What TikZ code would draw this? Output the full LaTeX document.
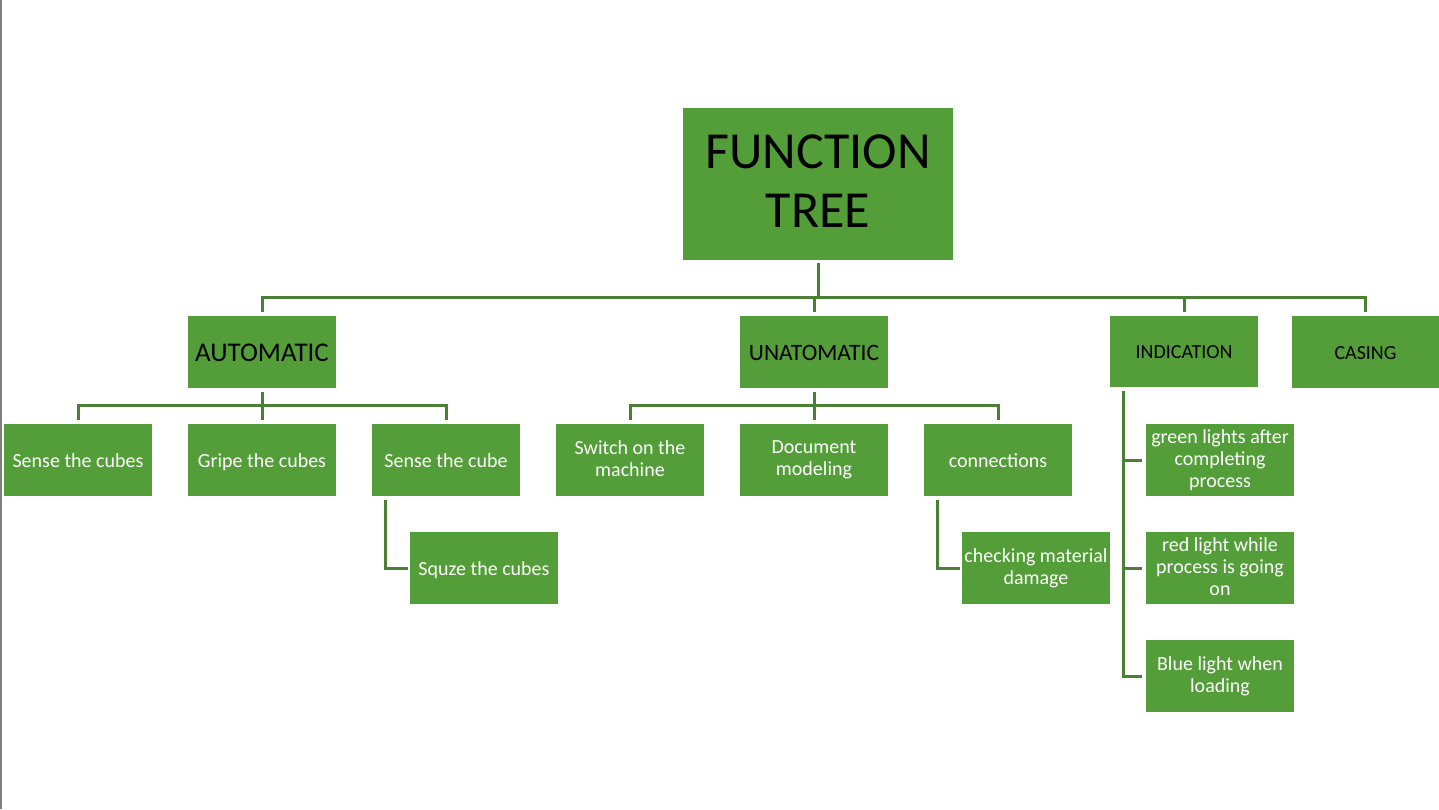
\documentclass[tikz,border=0pt]{standalone}
\usepackage{fontspec}
\setmainfont{Carlito}
\usetikzlibrary{calc}
\definecolor{boxgreen}{HTML}{549E39}
\definecolor{linegreen}{HTML}{4A8034}
\definecolor{edgegray}{HTML}{7F7F7F}
\newcommand\boxstrut{\rule[-0.17\baselineskip]{0pt}{\baselineskip}}
\newcommand\rootstrut{\rule[-0.1\baselineskip]{0pt}{\baselineskip}}
\tikzset{
  box/.style={rectangle, fill=boxgreen, inner sep=0pt, outer sep=0pt,
    minimum width=148pt, minimum height=72pt, align=center,
    execute at begin node=\boxstrut, execute at end node=\boxstrut},
  rootbox/.style={rectangle, fill=boxgreen, inner sep=0pt, outer sep=0pt,
    minimum width=270pt, minimum height=152pt, align=center,
    font=\fontsize{52}{59}\selectfont,
    execute at begin node=\rootstrut, execute at end node=\rootstrut},
  leaf/.style={box, text=white, font=\fontsize{20}{22}\selectfont},
  conn/.style={draw=linegreen, line width=3pt}
}
\begin{document}
\begin{tikzpicture}[x=1pt,y=-1pt]
\useasboundingbox (0,0) rectangle (1439,809);
\fill[white] (0,0) rectangle (1439,809);
\draw[edgegray, line width=2pt] (1,0) -- (1,809);

% root
\node[rootbox] (root) at (818,184) {FUNCTION\\TREE};

% level 1
\node[box, font=\fontsize{27}{30}\selectfont] (auto) at (262,352) {AUTOMATIC};
\node[box, font=\fontsize{23.5}{26}\selectfont] (unauto) at (814,352) {UNATOMATIC};
\node[box, minimum height=71pt, font=\fontsize{20}{22}\selectfont] (ind) at (1184,351.5) {INDICATION};
\node[box, minimum width=147pt, font=\fontsize{20}{22}\selectfont] (casing) at (1365.5,352) {CASING};

% automatic children
\node[leaf] (s1) at (78,460) {Sense the cubes};
\node[leaf] (s2) at (262,460) {Gripe the cubes};
\node[leaf] (s3) at (446,460) {Sense the cube};
\node[leaf] (s4) at (484,568) {Squze the cubes};

% unatomatic children
\node[leaf] (u1) at (630,460) {Switch on the\\machine};
\node[leaf] (u2) at (814,460) {Document\\modeling};
\node[leaf] (u3) at (998,460) {connections};
\node[leaf] (u4) at (1036,568) {checking material\\damage};

% indication children
\node[leaf] (i1) at (1220,460) {green lights after\\completing\\process};
\node[leaf] (i2) at (1220,568) {red light while\\process is going\\on};
\node[leaf] (i3) at (1220,676) {Blue light when\\loading};

% root connectors
\foreach \c in {auto,unauto,ind,casing}{
  \draw[conn] ([yshift=-3pt]root.south) -- ([yshift=-37pt]root.south) -| ([yshift=4pt]\c.north);
}
% automatic connectors
\foreach \c in {s1,s2,s3}{
  \draw[conn] ([yshift=-4pt]auto.south) -- ([yshift=-17pt]auto.south) -| ([yshift=4pt]\c.north);
}
\draw[conn] ([xshift=13pt,yshift=-4pt]s3.south west) |- ([xshift=-2pt]s4.west);
% unatomatic connectors
\foreach \c in {u1,u2,u3}{
  \draw[conn] ([yshift=-4pt]unauto.south) -- ([yshift=-17pt]unauto.south) -| ([yshift=4pt]\c.north);
}
\draw[conn] ([xshift=13pt,yshift=-4pt]u3.south west) |- ([xshift=-2pt]u4.west);
% indication connectors
\foreach \c in {i1,i2,i3}{
  \draw[conn] ([xshift=13pt,yshift=-4pt]ind.south west) |- ([xshift=-4pt]\c.west);
}
\end{tikzpicture}
\end{document}
